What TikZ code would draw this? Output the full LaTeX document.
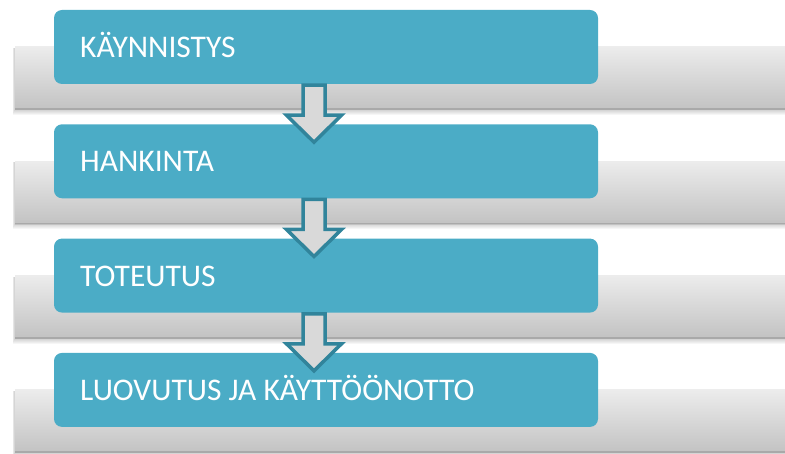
\documentclass[tikz,border=0pt]{standalone}
\usepackage{fontspec}
\setmainfont{Carlito}
\usetikzlibrary{calc}
\definecolor{boxblue}{HTML}{4BACC6}
\definecolor{arrowedge}{HTML}{31849B}
\definecolor{arrowfill}{HTML}{D9D9D9}
\definecolor{bartop}{HTML}{ECECEC}
\definecolor{barbot}{HTML}{C2C2C2}
\definecolor{baredge}{HTML}{A9A9A9}

\begin{document}
\begin{tikzpicture}[x=1pt,y=-1pt,
  stage/.style={fill=boxblue, rounded corners=8pt, minimum width=544pt,
                minimum height=74pt, inner sep=0pt},
  stagetext/.style={text=white, font=\fontsize{31.5}{36}\selectfont,
                    anchor=base west, inner sep=0pt},
  flow/.style={draw=arrowedge, fill=arrowfill, line width=3.5pt, line join=miter},
  backbar/.style={top color=bartop, bottom color=barbot}]
\useasboundingbox (0,0) rectangle (785,454);

% grey bars behind each stage, with a soft shadow underneath
\foreach \i in {0,...,3}{
  \pgfmathsetmacro\t{47+114.3*\i}
  \foreach \k in {1,...,6}{
    \fill[black, opacity=0.035] (15-0.4*\k,\t+1) rectangle (790,\t+62+\k);
  }
  \shade[backbar] (15,\t) rectangle (790,\t+63);
  \fill[baredge] (15,\t+61.5) rectangle (790,\t+63);
}

% stages
\node[stage] (b1) at (326,47)   {};
\node[stage] (b2) at (326,161.3) {};
\node[stage] (b3) at (326,275.6) {};
\node[stage] (b4) at (326,389.9) {};

\node[stagetext] (t1) at (80,57.5)    {KÄYNNISTYS};
\node[stagetext] (t2) at (80,171.8) {HANKINTA};
\node[stagetext] (t3) at (80,286.1) {TOTEUTUS};
\node[stagetext] (t4) at (80,400.4) {LUOVUTUS JA KÄYTTÖÖNOTTO};

% block arrows from each stage to the next
\foreach \u/\v in {b1/b2, b2/b3, b3/b4}{
  \coordinate (a) at ($(\u.south)+(-12,1)$);
  \draw[flow] ($(a)+(-11,0)$) -- ($(a)+(-11,30)$) -- ($(a)+(-27.5,30)$)
    -- ($(a)+(0,57)$) -- ($(a)+(27.5,30)$) -- ($(a)+(11,30)$)
    -- ($(a)+(11,0)$) -- cycle;
}
\end{tikzpicture}
\end{document}
